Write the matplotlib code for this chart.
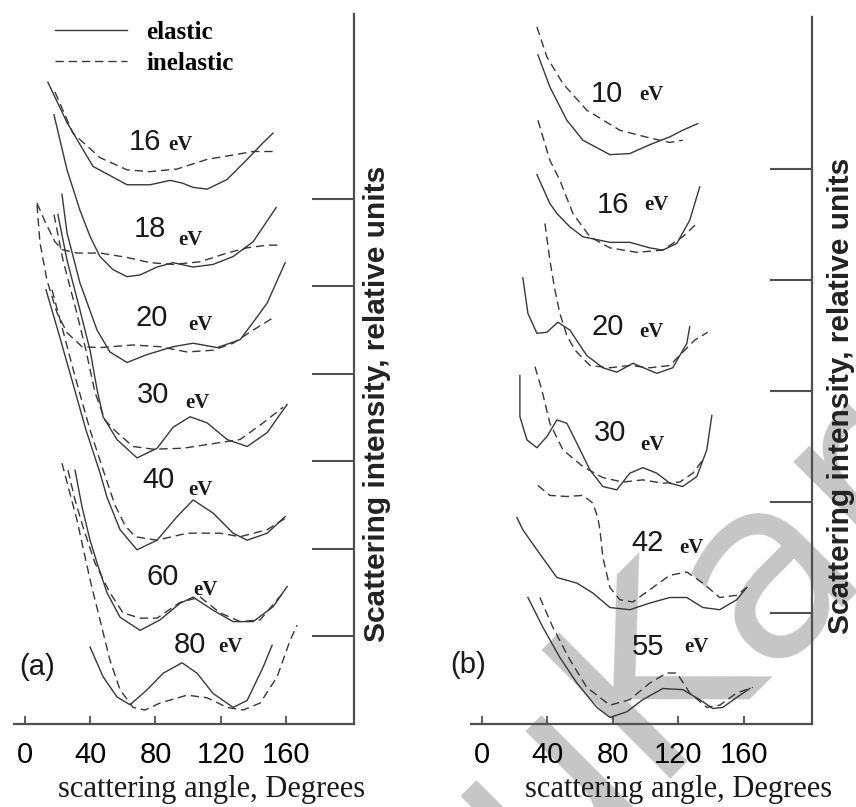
import matplotlib
matplotlib.use("Agg")
import matplotlib.pyplot as plt

# ---- panel (a): scattering angle (deg), intensity (relative units, offset per energy)
a_energies = ["16", "18", "20", "30", "40", "60", "80"]

a16_el = [(14.1, 7.33), (25.8, 6.87), (41.7, 6.37), (62.6, 6.16), (76.7, 6.16), (89.0, 6.21), (96.3, 6.18),
          (103.1, 6.13), (111.7, 6.11), (123.9, 6.22), (136.2, 6.45), (146.0, 6.64), (152.1, 6.75)]
a16_in = [(18.4, 7.22), (29.4, 6.75), (46.0, 6.47), (62.6, 6.33), (76.7, 6.31), (93.3, 6.34), (111.7, 6.45),
          (127.6, 6.50), (139.9, 6.54), (154.6, 6.54)]
a18_el = [(17.8, 6.96), (25.8, 6.33), (33.7, 5.87), (39.9, 5.57), (46.0, 5.34), (54.0, 5.19), (62.6, 5.11),
          (70.6, 5.13), (81.0, 5.22), (90.8, 5.27), (103.1, 5.22), (115.3, 5.25), (127.6, 5.34), (139.9, 5.51),
          (154.0, 5.90)]
a18_in = [(7.4, 5.95), (12.3, 5.74), (18.4, 5.51), (22.7, 5.42), (31.9, 5.38), (46.0, 5.38), (62.6, 5.33),
          (76.7, 5.27), (90.8, 5.25), (107.4, 5.28), (123.9, 5.38), (136.2, 5.44), (148.5, 5.47), (157.7, 5.47)]
a20_el = [(22.7, 6.05), (25.8, 5.61), (33.7, 5.04), (44.2, 4.50), (52.1, 4.25), (62.6, 4.13), (74.8, 4.22),
          (90.8, 4.31), (103.1, 4.35), (117.8, 4.30), (131.9, 4.39), (141.1, 4.62), (148.5, 4.81), (159.5, 5.27)]
a20_in = [(7.4, 5.93), (9.2, 5.50), (13.5, 5.07), (19.6, 4.70), (25.8, 4.47), (35.0, 4.31), (46.0, 4.30),
          (66.3, 4.33), (82.8, 4.31), (99.4, 4.25), (115.3, 4.27), (127.6, 4.35), (139.9, 4.50), (152.1, 4.64)]
a30_el = [(20.2, 5.82), (25.8, 5.30), (33.7, 4.73), (39.9, 4.27), (44.2, 3.82), (47.9, 3.51), (56.4, 3.25),
          (68.7, 3.04), (81.0, 3.15), (90.8, 3.39), (101.2, 3.51), (111.7, 3.44), (123.9, 3.25), (136.2, 3.17),
          (148.5, 3.33), (160.7, 3.65)]
a30_in = [(17.8, 5.82), (23.3, 5.30), (31.3, 4.73), (37.4, 4.27), (42.9, 3.79), (49.1, 3.47), (56.4, 3.33),
          (66.3, 3.17), (78.5, 3.14), (96.9, 3.15), (117.8, 3.21), (131.9, 3.25), (146.0, 3.44), (158.3, 3.62)]
a40_el = [(12.9, 4.96), (20.9, 4.45), (28.8, 3.93), (37.4, 3.36), (46.0, 2.87), (50.3, 2.59), (58.3, 2.22),
          (68.7, 1.99), (81.0, 2.10), (93.3, 2.37), (103.1, 2.56), (115.3, 2.41), (127.6, 2.18), (136.2, 2.10),
          (148.5, 2.18), (159.5, 2.37)]
a40_in = [(16.6, 4.96), (23.9, 4.45), (31.3, 3.93), (39.9, 3.36), (48.5, 2.87), (55.2, 2.50), (61.3, 2.27),
          (67.5, 2.14), (81.0, 2.10), (99.4, 2.18), (119.6, 2.18), (131.9, 2.14), (148.5, 2.22), (159.5, 2.35)]
a60_el = [(30.7, 2.90), (35.0, 2.48), (39.9, 2.10), (44.2, 1.84), (50.3, 1.50), (58.3, 1.22), (70.6, 1.07),
          (82.8, 1.19), (95.1, 1.38), (103.1, 1.45), (115.3, 1.30), (127.6, 1.17), (139.9, 1.17), (152.1, 1.34),
          (160.7, 1.57)]
a60_in = [(26.4, 2.90), (30.7, 2.56), (35.6, 2.25), (42.9, 1.84), (52.1, 1.50), (60.1, 1.27), (70.6, 1.21),
          (81.0, 1.21), (95.1, 1.39), (107.4, 1.45), (119.6, 1.27), (131.9, 1.17), (144.2, 1.19), (158.3, 1.50)]
a80_el = [(39.9, 0.88), (47.9, 0.54), (56.4, 0.31), (64.4, 0.22), (74.8, 0.39), (84.7, 0.58), (96.3, 0.70),
          (105.5, 0.58), (115.3, 0.35), (127.6, 0.19), (136.2, 0.27), (146.0, 0.65), (151.5, 0.90)]
a80_in = [(22.7, 2.98), (31.9, 2.33), (39.9, 1.65), (46.0, 1.19), (52.1, 0.73), (58.3, 0.39), (66.3, 0.19),
          (73.6, 0.16), (82.8, 0.24), (99.4, 0.33), (111.7, 0.30), (123.9, 0.19), (133.7, 0.16), (144.2, 0.24),
          (154.6, 0.54), (162.6, 0.96), (166.9, 1.13)]

# label anchors (number, "eV") for panel (a)
a_num_pos = [(73.6, 6.65), (76.7, 5.65), (77.9, 4.64), (78.5, 3.76), (81.6, 2.79), (84.7, 1.68), (101.2, 0.90)]
a_ev_pos = [(95.1, 6.61), (101.2, 5.53), (107.4, 4.56), (105.5, 3.67), (107.4, 2.67), (110.4, 1.53), (125.8, 0.88)]

# ---- panel (b)
b_energies = ["10", "16", "20", "30", "42", "55"]

b10_el = [(34.2, 6.03), (41.5, 5.74), (51.9, 5.44), (61.7, 5.26), (78.2, 5.13), (90.4, 5.14), (102.6, 5.22),
          (114.8, 5.29), (122.7, 5.35), (131.9, 5.41)]
b10_in = [(33.6, 6.28), (39.7, 6.01), (49.5, 5.77), (64.1, 5.53), (84.3, 5.35), (102.6, 5.28), (114.8, 5.24),
          (122.7, 5.26)]
b16_el = [(33.6, 4.95), (41.5, 4.69), (45.8, 4.60), (53.7, 4.48), (61.7, 4.39), (78.2, 4.34), (90.4, 4.34),
          (102.6, 4.29), (110.5, 4.27), (119.1, 4.33), (127.0, 4.54), (133.1, 4.84)]
b16_in = [(34.2, 5.44), (41.5, 5.08), (47.6, 4.90), (55.6, 4.60), (66.0, 4.39), (78.2, 4.29), (94.7, 4.25),
          (110.5, 4.27), (122.7, 4.39), (131.3, 4.51)]
b20_el = [(25.0, 4.02), (28.1, 3.70), (33.6, 3.52), (39.7, 3.53), (46.4, 3.62), (53.7, 3.55), (64.1, 3.32),
          (73.9, 3.21), (82.4, 3.17), (92.2, 3.25), (106.9, 3.16), (116.6, 3.21), (125.2, 3.43), (127.0, 3.58)]
b20_in = [(38.5, 4.51), (41.5, 4.18), (44.6, 3.91), (47.6, 3.70), (51.9, 3.50), (56.8, 3.37), (66.0, 3.23),
          (78.2, 3.21), (90.4, 3.23), (102.6, 3.21), (114.8, 3.23), (122.7, 3.35), (130.1, 3.46), (138.0, 3.53)]
b30_el = [(23.2, 3.14), (23.2, 2.77), (27.5, 2.56), (33.6, 2.49), (39.7, 2.59), (45.8, 2.74), (51.9, 2.71),
          (58.0, 2.53), (66.0, 2.29), (73.9, 2.14), (82.4, 2.11), (90.4, 2.26), (98.3, 2.31), (106.9, 2.26),
          (114.8, 2.17), (122.7, 2.14), (131.3, 2.23), (137.4, 2.47), (140.5, 2.78)]
b30_in = [(32.4, 3.22), (36.6, 3.01), (41.5, 2.71), (49.5, 2.47), (61.7, 2.32), (73.9, 2.22), (86.1, 2.18),
          (98.3, 2.20), (110.5, 2.17), (120.9, 2.18), (128.9, 2.26), (135.0, 2.38)]
b42_el = [(21.4, 1.86), (25.0, 1.75), (33.6, 1.57), (45.8, 1.32), (58.0, 1.27), (67.8, 1.18), (78.2, 1.05),
          (90.4, 1.03), (102.6, 1.09), (114.8, 1.14), (125.2, 1.14), (135.0, 1.05), (145.3, 1.03), (155.7, 1.12),
          (161.8, 1.23)]
b42_in = [(34.2, 2.15), (41.5, 2.06), (51.9, 2.05), (61.7, 2.06), (67.8, 1.99), (70.8, 1.86), (72.1, 1.75),
          (73.9, 1.50), (78.2, 1.23), (84.3, 1.12), (92.2, 1.10), (104.4, 1.23), (114.8, 1.34), (125.2, 1.37),
          (135.0, 1.27), (145.3, 1.14), (155.7, 1.16), (161.8, 1.23)]
b55_el = [(28.1, 1.14), (37.3, 0.87), (47.6, 0.60), (58.0, 0.37), (70.2, 0.15), (78.2, 0.06), (88.5, 0.11),
          (98.3, 0.22), (110.5, 0.32), (122.7, 0.31), (133.1, 0.22), (141.1, 0.14), (147.2, 0.15), (155.7, 0.24),
          (163.7, 0.32)]
b55_in = [(35.4, 1.14), (43.4, 0.87), (53.7, 0.58), (64.1, 0.33), (78.2, 0.17), (90.4, 0.22), (102.6, 0.37),
          (113.0, 0.46), (119.1, 0.46), (127.0, 0.28), (137.4, 0.15), (145.3, 0.17), (155.7, 0.28), (165.5, 0.33)]

b_num_pos = [(76.3, 5.68), (80.0, 4.68), (76.9, 3.58), (78.2, 2.62), (101.4, 1.63), (101.4, 0.69)]
b_ev_pos = [(103.8, 5.67), (106.9, 4.68), (103.8, 3.53), (104.4, 2.51), (128.2, 1.59), (131.3, 0.69)]

x_ticks = [0, 40, 80, 120, 160]
a_rticks = [1, 2, 3, 4, 5, 6]
b_rticks = [1, 2, 3, 4, 5]

SANS = "Liberation Sans"
SERIF = "Liberation Serif"
LINE = "#383838"
AXC = "#505050"
TXT = "#1a1a1a"
DASH = (6, 3.5)
W, H = 856.0, 807.0


def draw_curve(ax, pts, dashed):
    xs = [p[0] for p in pts]
    ys = [p[1] for p in pts]
    if dashed:
        return ax.plot(xs, ys, color=LINE, lw=1.0, dashes=DASH)[0]
    return ax.plot(xs, ys, color=LINE, lw=1.0)[0]


def style_axes(ax, ylim, rticks):
    ax.set_xlim(-6.7, 201.7)
    ax.set_ylim(0, ylim)
    ax.patch.set_visible(False)
    for s in ("left", "top"):
        ax.spines[s].set_visible(False)
    for s in ("bottom", "right"):
        ax.spines[s].set_color(AXC)
        ax.spines[s].set_linewidth(1.6)
    ax.yaxis.tick_right()
    ax.set_yticks(rticks)
    ax.set_yticklabels([])
    ax.tick_params(axis="y", direction="in", length=30, width=1.5, color=AXC, right=True, left=False)
    ax.set_xticks(x_ticks)
    ax.set_xticklabels([str(t) for t in x_ticks], fontfamily=SANS, fontsize=21)
    ax.tick_params(axis="x", direction="in", length=6, width=1.3, color=AXC, pad=12)


def label_energies(ax, energies, num_pos, ev_pos):
    for e, (nx, ny), (ex, ey) in zip(energies, num_pos, ev_pos):
        ax.text(nx, ny, e, fontfamily=SANS, fontsize=21, ha="center", va="center", color=TXT)
        ax.text(ex, ey, "eV", fontfamily=SERIF, fontsize=15, fontweight="bold", ha="center", va="center",
                color=TXT)


def side_labels(cx_ylab, cy_ylab, cx_xlab):
    fig.text(cx_ylab / W, 1 - cy_ylab / H, "Scattering intensity, relative units", fontfamily=SANS,
             fontsize=21.5, fontweight="bold", rotation=90, ha="center", va="center", color="#222222")
    fig.text(cx_xlab / W, 1 - 797 / H, "scattering angle, Degrees", fontfamily=SERIF, fontsize=22,
             ha="center", va="baseline", color=TXT)


fig = plt.figure(figsize=(8.56, 8.07), dpi=100)
ax_a = fig.add_axes([0.01636, 0.1028, 0.3972, 0.8798])
ax_b = fig.add_axes([0.5502, 0.1028, 0.3984, 0.8761])

# panel (a)
h_el = None
h_in = None
for el, inel in [(a16_el, a16_in), (a18_el, a18_in), (a20_el, a20_in), (a30_el, a30_in),
                 (a40_el, a40_in), (a60_el, a60_in), (a80_el, a80_in)]:
    l1 = draw_curve(ax_a, el, False)
    l2 = draw_curve(ax_a, inel, True)
    if h_el is None:
        h_el, h_in = l1, l2
label_energies(ax_a, a_energies, a_num_pos, a_ev_pos)
style_axes(ax_a, 8.11, a_rticks)
ax_a.text(7.4, 0.65, "(a)", fontfamily=SANS, fontsize=21, ha="center", va="center", color=TXT)
ax_a.legend([h_el, h_in], ["elastic", "inelastic"], loc="upper left", bbox_to_anchor=(0.12, 0.99),
            frameon=False, borderpad=0, borderaxespad=0, handlelength=2.9, handletextpad=0.76,
            labelspacing=0.3, prop={"family": SERIF, "size": 18, "weight": "bold"})
side_labels(377, 404, 212)

# panel (b)
for el, inel in [(b10_el, b10_in), (b16_el, b16_in), (b20_el, b20_in), (b30_el, b30_in),
                 (b42_el, b42_in), (b55_el, b55_in)]:
    draw_curve(ax_b, el, False)
    draw_curve(ax_b, inel, True)
label_energies(ax_b, b_energies, b_num_pos, b_ev_pos)
style_axes(ax_b, 6.37, b_rticks)
ax_b.text(-8.5, 0.53, "(b)", fontfamily=SANS, fontsize=21, ha="center", va="center", color=TXT)
side_labels(841, 396, 679)

# faint watermark behind panel (b), running off the figure edge
fig.text(690 / W, 1 - 640 / H, "uKar", fontfamily="DejaVu Sans", fontsize=180, rotation=45,
         ha="center", va="center", color="#c6c6c6", zorder=-5)

fig.savefig("out.png", dpi=100)
